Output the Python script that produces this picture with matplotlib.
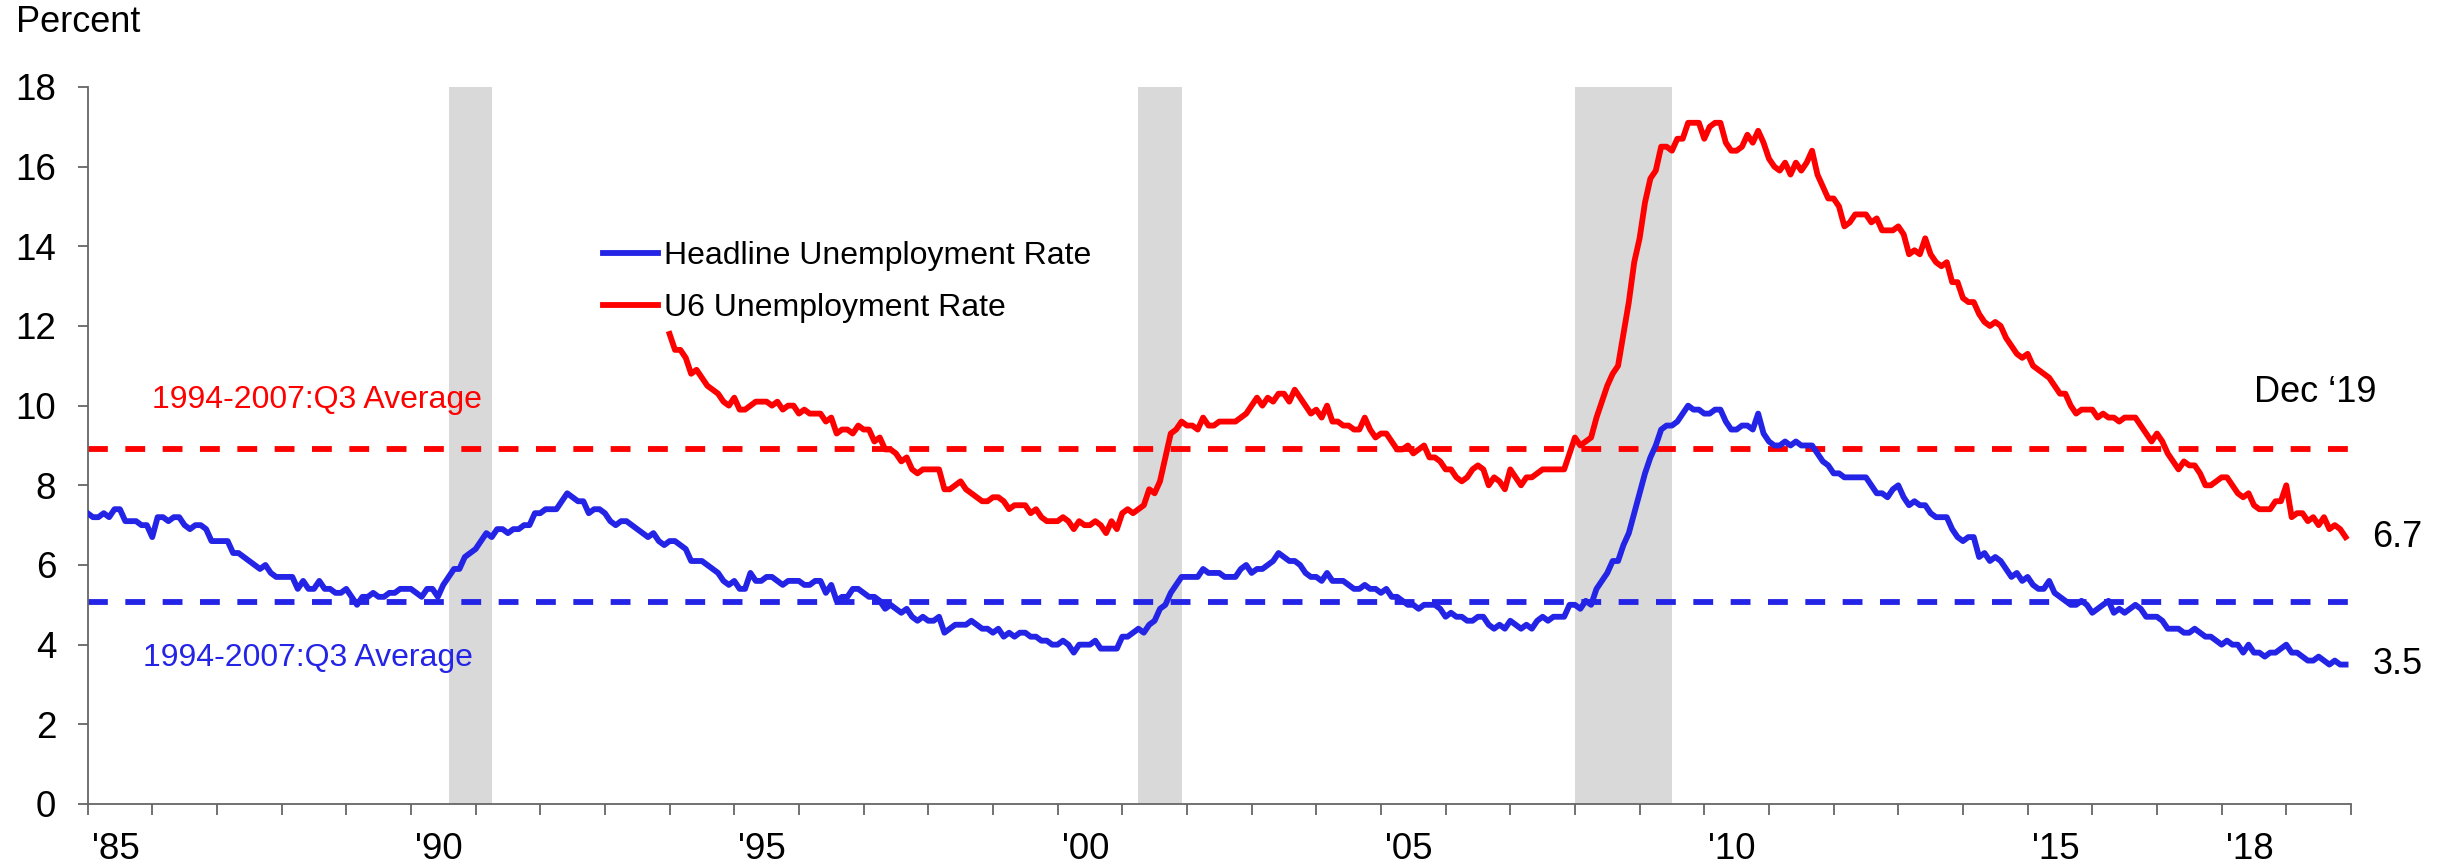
import numpy as np
import matplotlib.pyplot as plt

plt.rcParams['font.family'] = ['Liberation Sans', 'DejaVu Sans']

# Headline unemployment rate, monthly, Jan 1985 - Dec 2019
headline_start = 1985
headline = [
    7.3, 7.2, 7.2, 7.3, 7.2, 7.4, 7.4, 7.1, 7.1, 7.1, 7.0, 7.0,  # 1985
    6.7, 7.2, 7.2, 7.1, 7.2, 7.2, 7.0, 6.9, 7.0, 7.0, 6.9, 6.6,  # 1986
    6.6, 6.6, 6.6, 6.3, 6.3, 6.2, 6.1, 6.0, 5.9, 6.0, 5.8, 5.7,  # 1987
    5.7, 5.7, 5.7, 5.4, 5.6, 5.4, 5.4, 5.6, 5.4, 5.4, 5.3, 5.3,  # 1988
    5.4, 5.2, 5.0, 5.2, 5.2, 5.3, 5.2, 5.2, 5.3, 5.3, 5.4, 5.4,  # 1989
    5.4, 5.3, 5.2, 5.4, 5.4, 5.2, 5.5, 5.7, 5.9, 5.9, 6.2, 6.3,  # 1990
    6.4, 6.6, 6.8, 6.7, 6.9, 6.9, 6.8, 6.9, 6.9, 7.0, 7.0, 7.3,  # 1991
    7.3, 7.4, 7.4, 7.4, 7.6, 7.8, 7.7, 7.6, 7.6, 7.3, 7.4, 7.4,  # 1992
    7.3, 7.1, 7.0, 7.1, 7.1, 7.0, 6.9, 6.8, 6.7, 6.8, 6.6, 6.5,  # 1993
    6.6, 6.6, 6.5, 6.4, 6.1, 6.1, 6.1, 6.0, 5.9, 5.8, 5.6, 5.5,  # 1994
    5.6, 5.4, 5.4, 5.8, 5.6, 5.6, 5.7, 5.7, 5.6, 5.5, 5.6, 5.6,  # 1995
    5.6, 5.5, 5.5, 5.6, 5.6, 5.3, 5.5, 5.1, 5.2, 5.2, 5.4, 5.4,  # 1996
    5.3, 5.2, 5.2, 5.1, 4.9, 5.0, 4.9, 4.8, 4.9, 4.7, 4.6, 4.7,  # 1997
    4.6, 4.6, 4.7, 4.3, 4.4, 4.5, 4.5, 4.5, 4.6, 4.5, 4.4, 4.4,  # 1998
    4.3, 4.4, 4.2, 4.3, 4.2, 4.3, 4.3, 4.2, 4.2, 4.1, 4.1, 4.0,  # 1999
    4.0, 4.1, 4.0, 3.8, 4.0, 4.0, 4.0, 4.1, 3.9, 3.9, 3.9, 3.9,  # 2000
    4.2, 4.2, 4.3, 4.4, 4.3, 4.5, 4.6, 4.9, 5.0, 5.3, 5.5, 5.7,  # 2001
    5.7, 5.7, 5.7, 5.9, 5.8, 5.8, 5.8, 5.7, 5.7, 5.7, 5.9, 6.0,  # 2002
    5.8, 5.9, 5.9, 6.0, 6.1, 6.3, 6.2, 6.1, 6.1, 6.0, 5.8, 5.7,  # 2003
    5.7, 5.6, 5.8, 5.6, 5.6, 5.6, 5.5, 5.4, 5.4, 5.5, 5.4, 5.4,  # 2004
    5.3, 5.4, 5.2, 5.2, 5.1, 5.0, 5.0, 4.9, 5.0, 5.0, 5.0, 4.9,  # 2005
    4.7, 4.8, 4.7, 4.7, 4.6, 4.6, 4.7, 4.7, 4.5, 4.4, 4.5, 4.4,  # 2006
    4.6, 4.5, 4.4, 4.5, 4.4, 4.6, 4.7, 4.6, 4.7, 4.7, 4.7, 5.0,  # 2007
    5.0, 4.9, 5.1, 5.0, 5.4, 5.6, 5.8, 6.1, 6.1, 6.5, 6.8, 7.3,  # 2008
    7.8, 8.3, 8.7, 9.0, 9.4, 9.5, 9.5, 9.6, 9.8, 10.0, 9.9, 9.9,  # 2009
    9.8, 9.8, 9.9, 9.9, 9.6, 9.4, 9.4, 9.5, 9.5, 9.4, 9.8, 9.3,  # 2010
    9.1, 9.0, 9.0, 9.1, 9.0, 9.1, 9.0, 9.0, 9.0, 8.8, 8.6, 8.5,  # 2011
    8.3, 8.3, 8.2, 8.2, 8.2, 8.2, 8.2, 8.0, 7.8, 7.8, 7.7, 7.9,  # 2012
    8.0, 7.7, 7.5, 7.6, 7.5, 7.5, 7.3, 7.2, 7.2, 7.2, 6.9, 6.7,  # 2013
    6.6, 6.7, 6.7, 6.2, 6.3, 6.1, 6.2, 6.1, 5.9, 5.7, 5.8, 5.6,  # 2014
    5.7, 5.5, 5.4, 5.4, 5.6, 5.3, 5.2, 5.1, 5.0, 5.0, 5.1, 5.0,  # 2015
    4.8, 4.9, 5.0, 5.1, 4.8, 4.9, 4.8, 4.9, 5.0, 4.9, 4.7, 4.7,  # 2016
    4.7, 4.6, 4.4, 4.4, 4.4, 4.3, 4.3, 4.4, 4.3, 4.2, 4.2, 4.1,  # 2017
    4.0, 4.1, 4.0, 4.0, 3.8, 4.0, 3.8, 3.8, 3.7, 3.8, 3.8, 3.9,  # 2018
    4.0, 3.8, 3.8, 3.7, 3.6, 3.6, 3.7, 3.6, 3.5, 3.6, 3.5, 3.5,  # 2019
]

# U6 unemployment rate, monthly, Jan 1994 - Dec 2019
u6_start = 1994
u6 = [
    11.8, 11.4, 11.4, 11.2, 10.8, 10.9, 10.7, 10.5, 10.4, 10.3, 10.1, 10.0,  # 1994
    10.2, 9.9, 9.9, 10.0, 10.1, 10.1, 10.1, 10.0, 10.1, 9.9, 10.0, 10.0,  # 1995
    9.8, 9.9, 9.8, 9.8, 9.8, 9.6, 9.7, 9.3, 9.4, 9.4, 9.3, 9.5,  # 1996
    9.4, 9.4, 9.1, 9.2, 8.9, 8.9, 8.8, 8.6, 8.7, 8.4, 8.3, 8.4,  # 1997
    8.4, 8.4, 8.4, 7.9, 7.9, 8.0, 8.1, 7.9, 7.8, 7.7, 7.6, 7.6,  # 1998
    7.7, 7.7, 7.6, 7.4, 7.5, 7.5, 7.5, 7.3, 7.4, 7.2, 7.1, 7.1,  # 1999
    7.1, 7.2, 7.1, 6.9, 7.1, 7.0, 7.0, 7.1, 7.0, 6.8, 7.1, 6.9,  # 2000
    7.3, 7.4, 7.3, 7.4, 7.5, 7.9, 7.8, 8.1, 8.7, 9.3, 9.4, 9.6,  # 2001
    9.5, 9.5, 9.4, 9.7, 9.5, 9.5, 9.6, 9.6, 9.6, 9.6, 9.7, 9.8,  # 2002
    10.0, 10.2, 10.0, 10.2, 10.1, 10.3, 10.3, 10.1, 10.4, 10.2, 10.0, 9.8,  # 2003
    9.9, 9.7, 10.0, 9.6, 9.6, 9.5, 9.5, 9.4, 9.4, 9.7, 9.4, 9.2,  # 2004
    9.3, 9.3, 9.1, 8.9, 8.9, 9.0, 8.8, 8.9, 9.0, 8.7, 8.7, 8.6,  # 2005
    8.4, 8.4, 8.2, 8.1, 8.2, 8.4, 8.5, 8.4, 8.0, 8.2, 8.1, 7.9,  # 2006
    8.4, 8.2, 8.0, 8.2, 8.2, 8.3, 8.4, 8.4, 8.4, 8.4, 8.4, 8.8,  # 2007
    9.2, 9.0, 9.1, 9.2, 9.7, 10.1, 10.5, 10.8, 11.0, 11.8, 12.6, 13.6,  # 2008
    14.2, 15.1, 15.7, 15.9, 16.5, 16.5, 16.4, 16.7, 16.7, 17.1, 17.1, 17.1,  # 2009
    16.7, 17.0, 17.1, 17.1, 16.6, 16.4, 16.4, 16.5, 16.8, 16.6, 16.9, 16.6,  # 2010
    16.2, 16.0, 15.9, 16.1, 15.8, 16.1, 15.9, 16.1, 16.4, 15.8, 15.5, 15.2,  # 2011
    15.2, 15.0, 14.5, 14.6, 14.8, 14.8, 14.8, 14.6, 14.7, 14.4, 14.4, 14.4,  # 2012
    14.5, 14.3, 13.8, 13.9, 13.8, 14.2, 13.8, 13.6, 13.5, 13.6, 13.1, 13.1,  # 2013
    12.7, 12.6, 12.6, 12.3, 12.1, 12.0, 12.1, 12.0, 11.7, 11.5, 11.3, 11.2,  # 2014
    11.3, 11.0, 10.9, 10.8, 10.7, 10.5, 10.3, 10.3, 10.0, 9.8, 9.9, 9.9,  # 2015
    9.9, 9.7, 9.8, 9.7, 9.7, 9.6, 9.7, 9.7, 9.7, 9.5, 9.3, 9.1,  # 2016
    9.3, 9.1, 8.8, 8.6, 8.4, 8.6, 8.5, 8.5, 8.3, 8.0, 8.0, 8.1,  # 2017
    8.2, 8.2, 8.0, 7.8, 7.7, 7.8, 7.5, 7.4, 7.4, 7.4, 7.6, 7.6,  # 2018
    8.0, 7.2, 7.3, 7.3, 7.1, 7.2, 7.0, 7.2, 6.9, 7.0, 6.9, 6.7,  # 2019
]

# 1994-2007:Q3 averages
headline_avg = 5.07
u6_avg = 8.9

# NBER recessions (start, end) in fractional years
recessions = [(1990.583, 1991.25), (2001.25, 2001.917), (2008.0, 2009.5)]

label_years = [1985, 1990, 1995, 2000, 2005, 2010, 2015, 2018]
label_text = ["'85", "'90", "'95", "'00", "'05", "'10", "'15", "'18"]

blue = '#2424E6'
red = '#FF0000'

x_head = headline_start + np.arange(len(headline)) / 12
x_u6 = u6_start + np.arange(len(u6)) / 12

fig = plt.figure(figsize=(24.53, 8.66), dpi=100)
ax = fig.add_axes([0.0357, 0.0716, 0.9227, 0.828])

for start, end in recessions:
    ax.axvspan(start, end, color='#D9D9D9', lw=0, zorder=0)

ax.axhline(u6_avg, color=red, lw=4.2, linestyle=(0, (3.4, 3.0)), zorder=2)
ax.axhline(headline_avg, color=blue, lw=4.2, linestyle=(0, (3.4, 3.0)), zorder=2)

ax.plot(x_head, headline, color=blue, lw=4.2, label='Headline Unemployment Rate', zorder=3)
ax.plot(x_u6, u6, color=red, lw=4.2, label='U6 Unemployment Rate', zorder=3)

ax.set_xlim(1985, 2020)
ax.set_ylim(0, 18)
ax.set_yticks(range(0, 19, 2))
ax.set_xticks(range(1985, 2021))
ax.set_xticklabels([])
ax.set_xticks([y + 0.43 for y in label_years], minor=True)
ax.set_xticklabels(label_text, minor=True)

for side in ['top', 'right']:
    ax.spines[side].set_visible(False)
for side in ['left', 'bottom']:
    ax.spines[side].set_color('#666666')
    ax.spines[side].set_linewidth(1.3)
ax.tick_params(axis='y', direction='out', length=7.5, width=1.3, color='#666666',
               labelsize=26.5, pad=15)
ax.tick_params(axis='x', which='major', direction='out', length=8, width=1.3,
               color='#666666')
ax.tick_params(axis='x', which='minor', length=0, labelsize=26.5, pad=20)

fig.text(16 / 2453, 1 - 22 / 866, 'Percent', fontsize=26, va='center', ha='left')

ax.text(1988.55, 10.14, '1994-2007:Q3 Average', color=red, fontsize=23,
        ha='center', va='center')
ax.text(1988.41, 3.67, '1994-2007:Q3 Average', color=blue, fontsize=23,
        ha='center', va='center')
ax.text(2019.45, 10.32, 'Dec \u201819', fontsize=26, ha='center', va='center',
        clip_on=False)
ax.text(2020.33, u6[-1], '%.1f' % u6[-1], fontsize=26, ha='left', va='center',
        clip_on=False)
ax.text(2020.33, headline[-1], '%.1f' % headline[-1], fontsize=26, ha='left',
        va='center', clip_on=False)

ax.legend(loc='upper left', bbox_to_anchor=(603 / 2453, 1 - 241 / 866),
          bbox_transform=fig.transFigure, frameon=False, fontsize=23,
          handlelength=1.72, handletextpad=0.2, labelspacing=0.7,
          borderpad=0, borderaxespad=0)

fig.savefig('out.png', dpi=100)
